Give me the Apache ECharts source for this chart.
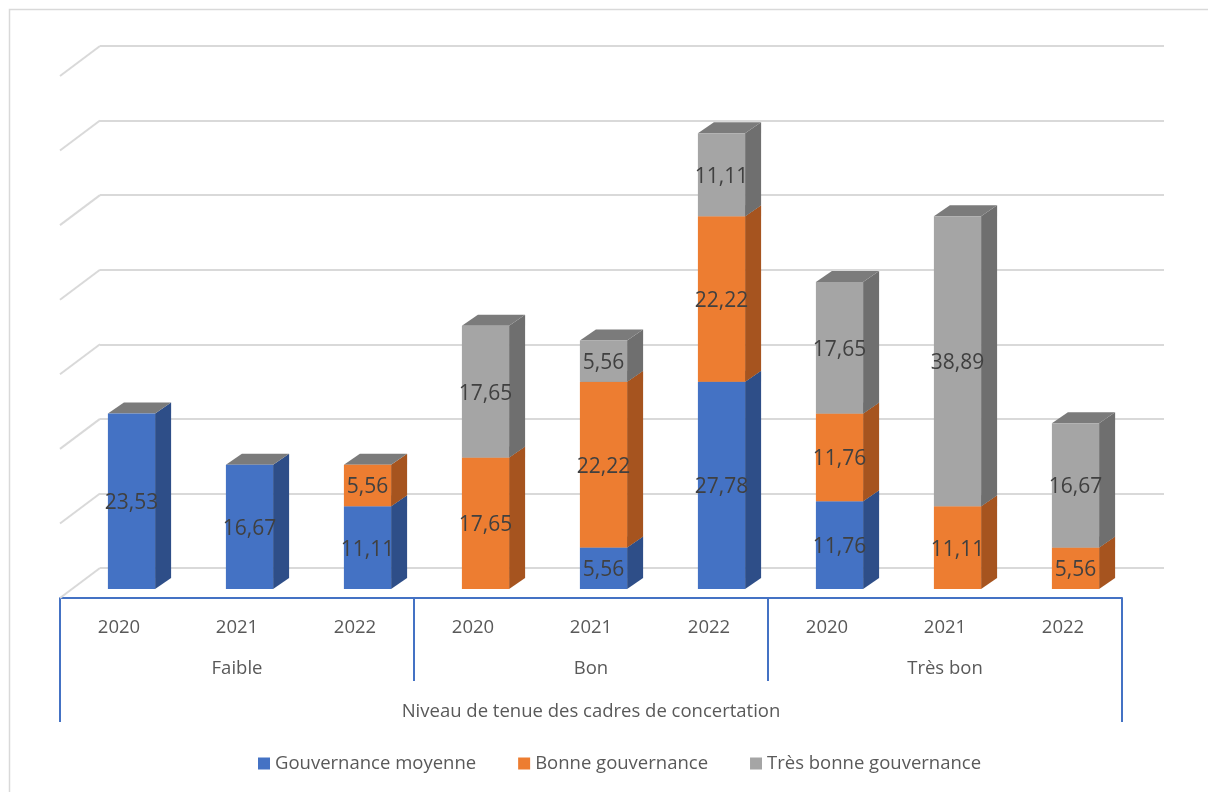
<!DOCTYPE html>
<html>
<head>
<meta charset="utf-8">
<script src="https://cdn.jsdelivr.net/npm/echarts@6/dist/echarts.min.js"></script>
<style>
  html, body { margin: 0; padding: 0; background: #ffffff; }
  #chart { width: 1208px; height: 792px; }
</style>
</head>
<body>
<div id="chart"></div>
<script>
// Groups and years on the two-level category axis
const groups = ['Faible', 'Bon', 'Très bon'];
const years = ['2020', '2021', '2022'];
const axisTitle = 'Niveau de tenue des cadres de concertation';

// Stacked values per year inside each group (Faible 2020..2022, Bon 2020..2022, Très bon 2020..2022)
const seriesNames = ['Gouvernance moyenne', 'Bonne gouvernance', 'Très bonne gouvernance'];
const moyenne = [23.53, 16.67, 11.11, 0, 5.56, 27.78, 11.76, 0, 0];
const bonne = [0, 0, 5.56, 17.65, 22.22, 22.22, 11.76, 11.11, 5.56];
const tresBonne = [0, 0, 0, 17.65, 5.56, 11.11, 17.65, 38.89, 16.67];

// Value axis ticks (gridlines on the back wall)
const yTicks = [0, 10, 20, 30, 40, 50, 60, 70];

const FONT = '"Open Sans", "Liberation Sans", sans-serif';
const faceColors = ['#4472C4', '#ED7D31', '#A5A5A5'];
const sideColors = ['#2E4E88', '#A6541F', '#6F6F6F'];
const topColor = '#7B7B7B';

const categories = [];
groups.forEach(g => years.forEach(y => categories.push(g + '|' + y)));
const stacks = [moyenne, bonne, tresBonne];

// depth of the boxes (oblique projection)
const DX = 16, DY = 11;
const FRONT_SHIFT = 12.5;

function fmt(v) { return v.toFixed(2).replace('.', ','); }

function boxRenderer(si) {
  return function (params, api) {
    const idx = api.value(0);
    const val = api.value(1);
    if (!val) return null;
    let base = 0;
    for (let k = 0; k < si; k++) base += stacks[k][idx];
    const p0 = api.coord([idx, base]);
    const p1 = api.coord([idx, base + val]);
    const w = api.size([1, 0])[0] * 0.4;
    const cx = p0[0] + FRONT_SHIFT;
    const L = cx - w / 2, R = cx + w / 2;
    const yB = p0[1], yT = p1[1];
    return {
      type: 'group',
      children: [
        { type: 'polygon', shape: { points: [[R, yB], [R + DX, yB - DY], [R + DX, yT - DY], [R, yT]] },
          style: { fill: sideColors[si] } },
        { type: 'polygon', shape: { points: [[L, yT], [R, yT], [R + DX, yT - DY], [L + DX, yT - DY]] },
          style: { fill: topColor } },
        { type: 'rect', shape: { x: L, y: yT, width: w, height: yB - yT },
          style: { fill: faceColors[si] } },
        { type: 'text', z2: 10,
          style: { text: fmt(val), x: cx, y: (yT + yB) / 2 + 2, align: 'center', verticalAlign: 'middle',
                   fill: '#404040', fontSize: 21, fontFamily: FONT } }
      ]
    };
  };
}

const chart = echarts.init(document.getElementById('chart'), null, { renderer: 'canvas' });

const option = {
  backgroundColor: '#ffffff',
  animation: false,
  textStyle: { fontFamily: FONT },
  graphic: [
    { type: 'rect', shape: { x: 9.5, y: 9.5, width: 1400, height: 1000 },
      style: { fill: 'none', stroke: '#d9d9d9', lineWidth: 1.5 }, z: -10 }
  ],
  legend: {
    left: 253, top: 749,
    icon: 'rect', itemWidth: 12, itemHeight: 12, itemGap: 42,
    textStyle: { color: '#595959', fontSize: 18.5, fontFamily: FONT },
    data: seriesNames
  },
  grid: [
    // front plane of the boxes
    { left: 60, right: 86, top: 67, bottom: 203 },
    // back wall with gridlines
    { left: 100, right: 44, top: 46, bottom: 224 }
  ],
  xAxis: [
    { gridIndex: 0, type: 'category', data: categories, offset: 9,
      axisLine: { onZero: false, lineStyle: { color: '#4472C4', width: 2 } },
      axisTick: { show: false },
      axisLabel: { formatter: v => v.split('|')[1], color: '#595959', fontSize: 18.5, margin: 20, fontFamily: FONT } },
    { gridIndex: 0, type: 'category', data: groups, offset: 9, position: 'bottom',
      axisLine: { show: false, onZero: false },
      axisTick: { show: true, length: 83, lineStyle: { color: '#4472C4', width: 2 } },
      axisLabel: { color: '#595959', fontSize: 18.5, margin: 61, fontFamily: FONT } },
    { gridIndex: 0, type: 'category', data: [axisTitle], offset: 9, position: 'bottom',
      axisLine: { show: false, onZero: false },
      axisTick: { show: true, length: 124, lineStyle: { color: '#4472C4', width: 2 } },
      axisLabel: { color: '#595959', fontSize: 18.5, margin: 104, fontFamily: FONT } },
    { gridIndex: 1, type: 'value', min: 0, max: 1, show: false }
  ],
  yAxis: [
    { gridIndex: 0, type: 'value', min: yTicks[0], max: yTicks[yTicks.length - 1], interval: 10, show: false },
    { gridIndex: 1, type: 'value', min: yTicks[0], max: yTicks[yTicks.length - 1], interval: 10,
      axisLine: { show: false }, axisTick: { show: false }, axisLabel: { show: false },
      splitLine: { show: true, lineStyle: { color: '#d9d9d9', width: 2 } } }
  ],
  series: [
    // side wall edges joining each gridline to the floor front
    { type: 'custom', xAxisIndex: 3, yAxisIndex: 1, silent: true, z: 1,
      data: yTicks.map(v => [0, v]),
      renderItem: function (params, api) {
        const p = api.coord([0, api.value(1)]);
        return { type: 'line', shape: { x1: p[0], y1: p[1], x2: p[0] - 40, y2: p[1] + 30 },
                 style: { stroke: '#d9d9d9', lineWidth: 2 } };
      } }
  ].concat(stacks.map((arr, si) => ({
    type: 'custom', name: seriesNames[si], xAxisIndex: 0, yAxisIndex: 0, z: 5,
    itemStyle: { color: faceColors[si] },
    data: arr.map((v, i) => [i, v]),
    renderItem: boxRenderer(si)
  })))
};

chart.setOption(option);
</script>
</body>
</html>
